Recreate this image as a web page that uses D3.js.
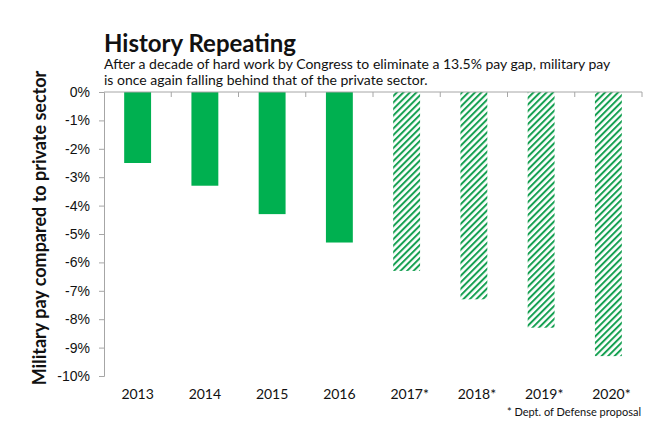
<!DOCTYPE html>
<html>
<head>
<meta charset="utf-8">
<script src="https://cdn.jsdelivr.net/npm/d3@7"></script>
<style>
  body { margin: 0; background: #fff; }
  svg { font-family: Lato, "Open Sans", sans-serif; }
</style>
</head>
<body>
<svg id="chart"></svg>
<script>
// chart data
const years = ["2013", "2014", "2015", "2016", "2017*", "2018*", "2019*", "2020*"];
const payGap = [-2.5, -3.3, -4.3, -5.3, -6.3, -7.3, -8.3, -9.3];
const proposed = [false, false, false, false, true, true, true, true];
const yTicks = [0, -1, -2, -3, -4, -5, -6, -7, -8, -9, -10];

const width = 650;
const height = 421;
const GREEN = "#00b050";
const HATCH = "#16a052";
const AXIS = "#a6a6a6";

const svg = d3.select("#chart")
    .attr("width", width)
    .attr("height", height);

// hatch pattern for proposed years
const pattern = svg.append("defs").append("pattern")
    .attr("id", "hatch")
    .attr("patternUnits", "userSpaceOnUse")
    .attr("width", 4.6)
    .attr("height", 4.6)
    .attr("patternTransform", "rotate(45)");
pattern.append("rect")
    .attr("width", 2)
    .attr("height", 4.6)
    .attr("fill", HATCH);

const x = d3.scaleBand()
    .domain(years)
    .range([104, 642])
    .paddingInner(0.6)
    .paddingOuter(0.3);

const y = d3.scaleLinear()
    .domain([0, -10])
    .range([92, 376]);

// bars
svg.append("g")
    .selectAll("rect")
    .data(years)
    .enter()
    .append("rect")
    .attr("x", d => x(d))
    .attr("y", y(0))
    .attr("width", x.bandwidth())
    .attr("height", (d, i) => y(payGap[i]) - y(0))
    .attr("fill", (d, i) => proposed[i] ? "url(#hatch)" : GREEN);

// left axis
const yAxis = svg.append("g")
    .attr("transform", "translate(104,0)")
    .call(d3.axisLeft(y).tickValues(yTicks).tickSize(5).tickFormat(d => d + "%"));
yAxis.select(".domain").attr("stroke", AXIS);
yAxis.selectAll(".tick line").attr("stroke", AXIS);
yAxis.selectAll(".tick text")
    .attr("x", -14)
    .attr("font-size", 14)
    .attr("fill", "#111");

// top category axis with ticks between bands
const boundaries = d3.range(years.length + 1).map(i => 104 + i * (538 / years.length));
svg.append("line")
    .attr("x1", 104).attr("x2", 642)
    .attr("y1", y(0)).attr("y2", y(0))
    .attr("stroke", AXIS);
svg.append("g")
    .selectAll("line")
    .data(boundaries.slice(1))
    .enter()
    .append("line")
    .attr("x1", d => d).attr("x2", d => d)
    .attr("y1", y(0)).attr("y2", y(0) + 5)
    .attr("stroke", AXIS);

// year labels
svg.append("g")
    .selectAll("text")
    .data(years)
    .enter()
    .append("text")
    .attr("x", d => x(d) + x.bandwidth() / 2 + (d.endsWith("*") ? 3 : 0))
    .attr("y", 399)
    .attr("text-anchor", "middle")
    .attr("font-size", 14)
    .attr("fill", "#111")
    .text(d => d);

// title
svg.append("text")
    .attr("x", 104)
    .attr("y", 52)
    .attr("font-size", 24)
    .attr("font-weight", "bold")
    .attr("fill", "#111")
    .text("History Repeating");

const subtitle = [
    "After a decade of hard work by Congress to eliminate a 13.5% pay gap, military pay",
    "is once again falling behind that of the private sector."
];
svg.append("g")
    .selectAll("text")
    .data(subtitle)
    .enter()
    .append("text")
    .attr("x", 104)
    .attr("y", (d, i) => 69 + i * 16)
    .attr("font-size", 14)
    .attr("fill", "#111")
    .text(d => d);

// y axis title
svg.append("text")
    .attr("transform", "translate(46,228) rotate(-90)")
    .attr("text-anchor", "middle")
    .attr("font-size", 18)
    .attr("font-weight", "bold")
    .attr("fill", "#111")
    .text("Military pay compared to private sector");

// footnote
svg.append("text")
    .attr("x", 641)
    .attr("y", 416)
    .attr("text-anchor", "end")
    .attr("font-size", 11)
    .attr("fill", "#111")
    .text("* Dept. of Defense proposal");
</script>
</body>
</html>
